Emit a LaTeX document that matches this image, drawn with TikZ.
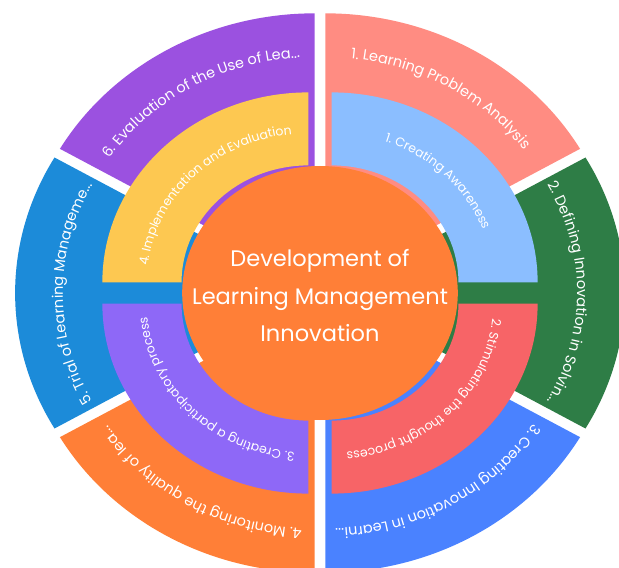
\documentclass[tikz,border=0pt]{standalone}
\usepackage{fontspec}
\setmainfont{Poppins}
\usetikzlibrary{decorations.text}

\definecolor{centrecol}{HTML}{FF7F37}
\definecolor{probcol}{HTML}{FF8C82}
\definecolor{defcol}{HTML}{2E7D46}
\definecolor{creacol}{HTML}{4A82FF}
\definecolor{monicol}{HTML}{FF7F37}
\definecolor{trialcol}{HTML}{1C8BD9}
\definecolor{evalcol}{HTML}{9B51E0}
\definecolor{awarecol}{HTML}{8BBEFF}
\definecolor{stimcol}{HTML}{F76467}
\definecolor{partcol}{HTML}{8E68F7}
\definecolor{implcol}{HTML}{FDC851}

\tikzset{
  ringtext/.style={decorate, decoration={text along path, text align=center, text color=white}},
}

\begin{document}
\begin{tikzpicture}[x=1.085pt, y=1pt]
\useasboundingbox (-320pt,-275pt) rectangle (299pt,293pt);
% outer ring: six wedges, each one pulled out along its middle
\foreach \a/\col in {90/probcol, 30/defcol, -30/creacol, -90/monicol, -150/trialcol, -210/evalcol}{
  \fill[\col, shift={({\a-30}:10)}] (0,0) -- (\a:271) arc[start angle=\a, end angle=\a-60, radius=271] -- cycle;
}
% outer labels, clockwise
\foreach \a/\txt in {90/{1. Learning Problem Analysis}, 30/{2. Defining Innovation in Solvin...},
    -30/{3. Creating Innovation in Learni...}, -90/{4. Monitoring the quality of lea...},
    -150/{5. Trial of Learning Manageme...}, -210/{6. Evaluation of the Use of Lea...}}{
  \fontsize{14.5}{16}\selectfont
  \path[ringtext, decoration={text/.expanded={\txt}}, shift={({\a-30}:10)}]
    (\a:227) arc[start angle=\a, end angle=\a-60, radius=227];
}
% inner ring: four quarters
\foreach \a/\col in {90/awarecol, 0/stimcol, -90/partcol, -180/implcol}{
  \fill[\col, shift={({\a-45}:15)}] (\a:117) arc[start angle=\a, end angle=\a-90, radius=117]
    -- (\a-90:190) arc[start angle=\a-90, end angle=\a, radius=190] -- cycle;
}
\foreach \a/\txt in {90/{1. Creating Awareness}, 0/{2. Stimulating the thought process},
    -90/{3. Creating a participatory process}, -180/{4. Implementation and Evaluation}}{
  \fontsize{12.5}{14}\selectfont
  \path[ringtext, decoration={text/.expanded={\txt}}, shift={({\a-45}:15)}]
    (\a:149) arc[start angle=\a, end angle=\a-90, radius=149];
}
% centre
\fill[centrecol] (0,0) circle[radius=127];
\node[align=center, text=white, font=\fontsize{22.5}{37.5}\selectfont] (dlmi) at (0,-3)
  {Development of\\Learning Management\\Innovation};
\end{tikzpicture}
\end{document}
